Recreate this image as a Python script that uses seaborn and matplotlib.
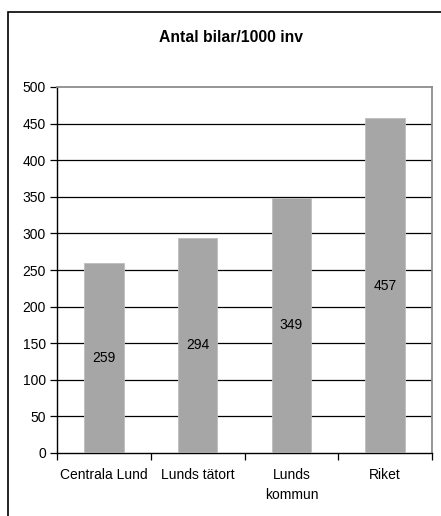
import matplotlib
matplotlib.use("Agg")
import matplotlib.pyplot as plt
from matplotlib.patches import Rectangle
from matplotlib.ticker import FixedLocator
import seaborn as sns
import pandas as pd

categories = ["Centrala Lund", "Lunds tätort", "Lunds\nkommun", "Riket"]
values = [259, 294, 349, 457]
yticks = [0, 50, 100, 150, 200, 250, 300, 350, 400, 450, 500]
title = "Antal bilar/1000 inv"

sns.set_style("white")
plt.rcParams["font.family"] = ["Liberation Sans", "DejaVu Sans"]
plt.rcParams["text.color"] = "black"
plt.rcParams["xtick.color"] = "black"
plt.rcParams["ytick.color"] = "black"

df = pd.DataFrame({"område": categories, "bilar": values})

fig = plt.figure(figsize=(4.41, 5.16), dpi=100)
# outer chart frame
fig.patches.append(Rectangle((8 / 441, -0.1), 1.2, (516 - 12) / 516 + 0.1,
                             transform=fig.transFigure, fill=False,
                             edgecolor="black", linewidth=1.2, zorder=0))

ax = fig.add_axes([57 / 441, 1 - 453 / 516, 375 / 441, 366 / 516])
sns.barplot(data=df, x="område", y="bilar", order=categories, color="#A6A6A6",
            saturation=1, width=0.42, edgecolor="#BDBDBD", linewidth=0.6,
            ax=ax, zorder=3)

ax.set_ylim(0, 500)
ax.set_xlim(-0.5, len(categories) - 0.5)
ax.set_yticks(yticks)
for y in yticks[1:-1]:
    ax.axhline(y, color="black", linewidth=0.9, zorder=1)

for i, v in enumerate(values):
    ax.text(i, v / 2, str(v), ha="center", va="center", fontsize=10, zorder=4)

ax.set_xlabel("")
ax.set_ylabel("")
fig.text(231 / 441, 1 - 38 / 516, title, ha="center", va="center",
         fontsize=11.3, fontweight="bold")

for s in ["left", "bottom"]:
    ax.spines[s].set_color("black")
    ax.spines[s].set_linewidth(1.0)
for s in ["top", "right"]:
    ax.spines[s].set_color("#8C8C8C")
    ax.spines[s].set_linewidth(1.3)

ax.tick_params(axis="y", which="major", length=5, width=0.9,
               labelsize=10, pad=3, left=True)
ax.tick_params(axis="x", which="major", length=0, labelsize=10, pad=11)
for lbl in ax.get_xticklabels():
    lbl.set_linespacing(1.5)
ax.xaxis.set_minor_locator(FixedLocator([i - 0.5 for i in range(len(categories) + 1)]))
ax.tick_params(axis="x", which="minor", length=5, width=0.9, bottom=True)

fig.savefig("out.png", dpi=100)
